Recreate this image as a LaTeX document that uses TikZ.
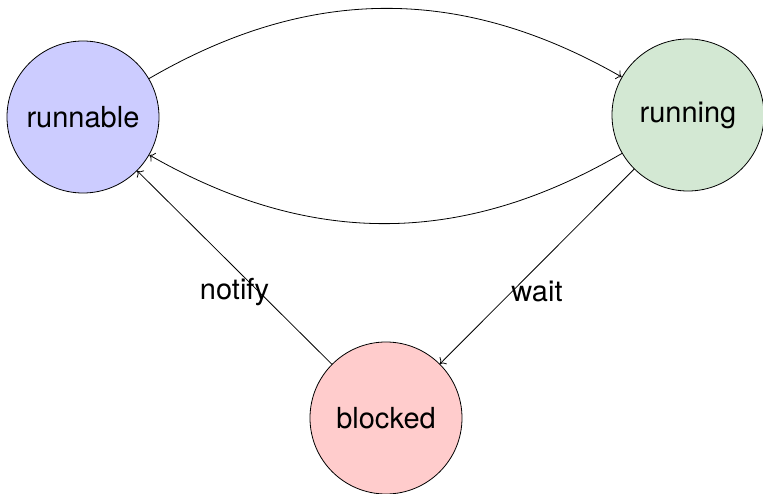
\documentclass[tikz,border=0pt]{standalone}
\usepackage{fontspec}
\usetikzlibrary{arrows.meta}
\setmainfont{TeX Gyre Heros}
\definecolor{runfill}{RGB}{204,204,255}
\definecolor{runningfill}{RGB}{211,232,211}
\definecolor{blockfill}{RGB}{255,204,204}
\begin{document}
\begin{tikzpicture}[x=1pt,y=-1pt,
  state/.style={circle, draw=black, line width=0.8pt, minimum size=152pt, inner sep=0pt, font=\fontsize{29}{34}\selectfont},
  edge/.style={-{To[length=5pt,width=10pt]}, line width=0.8pt},
  lbl/.style={font=\fontsize{29}{34}\selectfont, inner sep=0pt}]
\useasboundingbox (0,0) rectangle (763,494);
\node[state, fill=runfill] (runnable) at (83,117) {runnable};
\node[state, fill=runningfill] (running) at (688,115) {running};
\node[state, fill=blockfill] (blocked) at (386,418) {blocked};
\draw[edge] (runnable) to[bend left=30] (running);
\draw[edge] (running) to[bend left=30] (runnable);
\draw[edge] (running) -- node[lbl, midway, yshift=-25pt] (wl) {wait} (blocked);
\draw[edge] (blocked) -- node[lbl, midway, yshift=-25pt] (nl) {notify} (runnable);
\end{tikzpicture}
\end{document}
